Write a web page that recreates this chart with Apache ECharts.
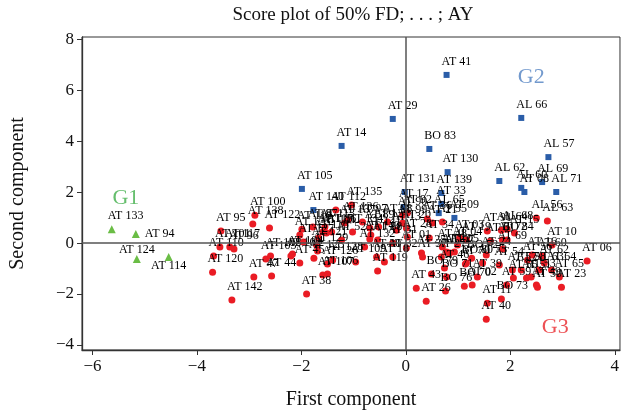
<!DOCTYPE html>
<html><head><meta charset="utf-8">
<script src="https://cdn.jsdelivr.net/npm/echarts@6/dist/echarts.min.js"></script>
<style>html,body{margin:0;padding:0;background:#fff}#c{width:622px;height:417px}</style>
</head><body><div id="c"></div>
<script>
const xTicks = [-6, -4, -2, 0, 2, 4];
const yTicks = [-4, -2, 0, 2, 4, 6, 8];

const g1Labels = ["AT 133", "AT 94", "AT 124", "AT 114"];
const g1X = [-5.63, -5.17, -5.15, -4.54];
const g1Y = [0.55, 0.36, -0.62, -0.55];

const g2Labels = ["AT 41", "AT 29", "AL 66", "AT 14", "BO 83", "AL 57", "AT 130", "AL 62", "AL 69", "AL 60",
  "AT 08", "AL 71", "AT 105", "AT 140", "AT 131", "AT 139", "AT 17", "AT 33", "AL 65", "AT 09"];
const g2X = [0.78, -0.25, 2.21, -1.23, 0.45, 2.73, 0.80, 1.79, 2.61, 2.21,
  2.27, 2.88, -1.99, -1.77, -0.02, 0.68, -0.04, 0.68, 0.63, 0.93];
const g2Y = [6.61, 4.88, 4.92, 3.82, 3.70, 3.38, 2.79, 2.44, 2.40, 2.17,
  2.01, 2.01, 2.13, 1.30, 2.01, 1.97, 1.42, 1.54, 1.18, 0.99];

const g3Labels = ["AT 95", "AT 100", "AT 138", "AT 122", "AT 101", "AT 117", "AT 96", "AT 110", "AT 120", "AT 142",
  "AT 47", "AT 44", "AT 103", "AT 108", "AT 102", "AT 104", "AT 45", "AT 38", "AT 118", "AT 123",
  "AT 127", "AT 125", "AT 121", "AT 129", "AT 116", "AT 115", "AT 113", "AT 111", "AT 126", "AT 106",
  "AT 107", "AT 128", "AT 112", "AT 52", "AT 137", "AT 135", "AT 136", "AT 134", "AT 132", "AT 109",
  "AT 141", "AT 143", "AT 88", "AT 12", "AT 30", "AT 119", "AT 18", "AT 32", "AT 31", "AT 13",
  "AT 99", "AT 01", "AT 20", "AT 92", "AT 90", "AT 28", "AT 25", "AT 37", "AT 34", "AT 36",
  "AT 21", "AT 35", "AT 27", "AT 48", "AT 22", "AT 07", "AT 05", "AT 04", "AT 03", "AT 19",
  "BO 72", "BO 80", "AT 46", "BO 79", "BO 71", "BO 76", "AT 43", "AT 26", "BO 70", "AT 02",
  "AT 39", "AT 11", "BO 73", "AT 40", "AT 24", "AT 61", "AT 91", "AL 64", "AL 68", "AT 15",
  "BO 84", "AT 72", "AT 54", "AT 57", "AT 55", "AT 59", "AT 58", "AT 51", "AT 53", "AT 49",
  "AT 50", "AT 56", "AT 16", "AT 60", "AT 62", "AT 63", "AT 64", "AT 65", "AT 23", "AL 63",
  "AL 56", "AT 10", "AT 06", "AT 69", "AT 70", "AT 73", "AT 97", "AT 98", "AT 89", "AT 87", "AT 86"];
const g3X = [-3.54, -2.89, -2.93, -2.61, -3.56, -3.37, -3.29, -3.68, -3.70, -3.33,
  -2.91, -2.57, -2.68, -2.59, -2.20, -2.17, -2.03, -1.90, -1.99, -2.03,
  -1.96, -1.76, -1.71, -1.69, -1.67, -1.59, -1.55, -1.52, -1.50, -1.50,
  -1.59, -1.40, -1.34, -1.23, -1.17, -1.04, -1.11, -1.02, -0.79, -0.96,
  -0.67, -0.69, -0.54, -0.52, -0.56, -0.54, -0.41, -0.25, -0.25, -0.18,
  -0.06, 0.01, 0.01, 0.03, -0.06, 0.03, 0.30, 0.32, 0.45, 0.41,
  0.51, 0.70, 0.68, 0.70, 0.78, 0.84, 0.93, 0.99, 1.03, 1.16,
  1.26, 1.16, 0.74, 0.49, 0.78, 0.76, 0.20, 0.39, 1.12, 1.27,
  1.37, 1.56, 1.83, 1.54, 1.54, 1.62, 1.56, 1.83, 1.94, 2.08,
  1.94, 1.85, 1.79, 2.04, 2.06, 1.93, 2.21, 2.31, 2.40, 2.50,
  2.52, 2.33, 2.42, 2.61, 2.65, 2.55, 2.79, 2.94, 2.98, 2.71,
  2.50, 2.80, 3.47, 1.85, 1.14, 1.47, -0.83, -0.35, -0.69, -1.78, -1.42];
const g3Y = [0.48, 1.10, 0.75, 0.59, -0.15, -0.15, -0.23, -0.51, -1.14, -2.24,
  -1.33, -1.29, -0.62, -0.51, -0.51, -0.43, -0.78, -2.00, 0.55, 0.32,
  0.04, -0.59, -0.07, -0.31, 0.20, 0.44, 0.63, 0.40, -0.82, -1.21,
  -1.25, -0.66, 1.30, 0.12, 0.79, 1.50, 0.91, 0.44, -0.15, -0.74,
  0.32, 0.16, 0.12, 0.63, -0.55, -1.10, -0.74, -0.55, 0.00, 0.51,
  0.79, -0.19, 0.59, 1.18, 1.10, 0.24, -0.39, -0.55, 0.20, 0.95,
  0.79, 0.83, -0.55, -0.15, -0.35, -0.39, -0.35, -0.07, 0.20, 0.12,
  -0.59, -0.78, -0.98, -1.21, -1.33, -1.88, -1.77, -2.28, -1.69, -1.65,
  -1.33, -2.36, -2.20, -2.99, -0.47, 0.08, 0.48, 0.51, 0.55, 0.40,
  0.12, 0.12, -0.86, -1.06, -1.37, -1.65, -1.06, -1.37, -1.33, -1.65,
  -1.73, -0.66, -0.47, -0.51, -0.78, -1.06, -1.06, -1.33, -1.73, 0.87,
  0.99, -0.07, -0.70, -0.23, -0.82, -0.78, 0.83, 0.83, 0.59, 0.63, 0.44];

const groupNames = ["G1", "G2", "G3"];
const groupX = [-5.36, 2.40, 2.86];
const groupY = [1.75, 6.53, -3.30];

const FONT = '"Liberation Serif", "DejaVu Serif", serif';
const RED = '#ea1c24', BLUE = '#2a5da8', GREEN = '#6abd45';
const labelPlacement = { "AT 94": "right", "AT 114": "bottom", "AT 124": "top" };

function pts(labels, xs, ys) {
  return labels.map((l, i) => {
    const d = { name: l, value: [xs[i], ys[i]] };
    const p = labelPlacement[l];
    if (p) d.label = { position: p, align: p === 'right' ? 'left' : 'center', verticalAlign: p === 'right' ? 'middle' : null };
    return d;
  });
}
function lab(off) {
  return { show: true, formatter: p => p.name, position: off, align: 'left', verticalAlign: 'middle',
    fontFamily: FONT, fontSize: 12, color: '#000' };
}
const minus = v => String(v).replace('-', '\u2212');

const chart = echarts.init(document.getElementById('c'), null, { renderer: 'canvas' });
chart.setOption({
  animation: false,
  title: { text: 'Score plot of 50% FD; . . . ; AY', left: 348, textAlign: 'center', top: 1,
    textStyle: { fontFamily: FONT, fontSize: 19, fontWeight: 'normal', color: '#111' } },
  grid: { left: 82, right: 1, top: 37, bottom: 67, show: true, borderColor: '#333', borderWidth: 1 },
  xAxis: { type: 'value', min: -6.2, max: 4.1, splitLine: { show: false },
    axisLine: { onZero: false, lineStyle: { color: '#333', width: 1.3 } },
    axisTick: { customValues: xTicks, length: 5, lineStyle: { color: '#333' } },
    axisLabel: { customValues: xTicks, formatter: minus, fontFamily: FONT, fontSize: 17, color: '#111', margin: 8 },
    name: 'First component', nameLocation: 'middle', nameGap: 40,
    nameTextStyle: { fontFamily: FONT, fontSize: 20, color: '#111' } },
  yAxis: { type: 'value', min: -4.2, max: 8.1, splitLine: { show: false },
    axisLine: { onZero: false, lineStyle: { color: '#333', width: 1.3 } },
    axisTick: { customValues: yTicks, length: 5, lineStyle: { color: '#333' } },
    axisLabel: { customValues: yTicks, formatter: minus, fontFamily: FONT, fontSize: 17, color: '#111', margin: 8 },
    name: 'Second component', nameLocation: 'middle', nameGap: 54,
    nameTextStyle: { fontFamily: FONT, fontSize: 20, color: '#111' } },
  series: [
    { type: 'scatter', data: [], z: 1, silent: true,
      markLine: { silent: true, symbol: 'none', label: { show: false },
        lineStyle: { color: '#555', width: 1.5, type: 'solid' },
        data: [{ xAxis: 0 }, { yAxis: 0 }] } },
    { type: 'scatter', name: 'G3', symbol: 'circle', symbolSize: 7, z: 3,
      itemStyle: { color: RED, opacity: 1 }, label: lab([-1.5, -9.8]), data: pts(g3Labels, g3X, g3Y) },
    { type: 'scatter', name: 'G2', symbol: 'rect', symbolSize: 6, z: 3,
      itemStyle: { color: BLUE, opacity: 1 }, label: lab([-2, -10.3]), data: pts(g2Labels, g2X, g2Y) },
    { type: 'scatter', name: 'G1', symbol: 'triangle', symbolSize: 8, z: 3,
      itemStyle: { color: GREEN, opacity: 1 }, label: lab([0, -9.3]), data: pts(g1Labels, g1X, g1Y) },
    { type: 'scatter', symbolSize: 0, z: 4, silent: true,
      data: groupNames.map((n, i) => ({ name: n, value: [groupX[i], groupY[i]],
        label: { color: ['#3fae49', '#4f7fc0', '#e8262b'][i] } })),
      label: { show: true, position: 'inside', formatter: p => p.name, fontFamily: FONT, fontSize: 22 } }
  ]
});
</script></body></html>
